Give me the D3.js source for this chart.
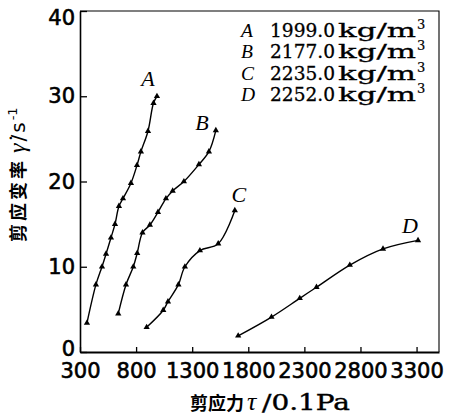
<!DOCTYPE html>
<html>
<head>
<meta charset="utf-8">
<script src="https://cdn.jsdelivr.net/npm/d3@7"></script>
<style>
  body { margin: 0; background: #fff; }
  svg { display: block; }
</style>
</head>
<body>
<div id="chart"></div>
<script>
// ticks
var tauTicks = [300, 800, 1300, 1800, 2300, 2800, 3300];
var rateTicks = [0, 10, 20, 30, 40];

// legend
var curveNames = ["A", "B", "C", "D"];
var densities = ["1999.0", "2177.0", "2235.0", "2252.0"];

// shear stress (0.1Pa) / shear rate (1/s)
var tauA = [362, 442, 496, 532, 576, 612, 647, 683, 754, 808, 843, 906, 955, 986];
var rateA = [3.4, 7.9, 10.0, 11.5, 13.4, 15.0, 17.1, 18.0, 19.8, 21.9, 23.5, 25.9, 29.2, 30.0];

var tauB = [641, 710, 775, 810, 857, 923, 995, 1066, 1126, 1226, 1360, 1449, 1511];
var rateB = [4.5, 7.9, 10.0, 11.6, 14.0, 14.9, 16.4, 18.0, 18.9, 20.0, 22.0, 23.5, 26.0];

var tauC = [894, 1042, 1084, 1177, 1235, 1369, 1532, 1680];
var rateC = [2.9, 4.9, 5.9, 7.9, 10.0, 11.9, 12.7, 16.6];

var tauD = [1710, 2007, 2259, 2408, 2705, 3001, 3313];
var rateD = [1.9, 4.1, 6.3, 7.6, 10.2, 12.1, 13.1];

var series = [
  {name: "A", tau: tauA, rate: rateA},
  {name: "B", tau: tauB, rate: rateB},
  {name: "C", tau: tauC, rate: rateC},
  {name: "D", tau: tauD, rate: rateD}
];

var width = 456, height = 419;
var plotLeft = 80, plotRight = 439, plotTop = 11, plotBottom = 352;

var svg = d3.select("#chart").append("svg")
  .attr("width", width)
  .attr("height", height);

var x = d3.scaleLinear().domain([300, 3500]).range([plotLeft, plotRight]);
var y = d3.scaleLinear().domain([0, 40]).range([plotBottom, plotTop]);

// frame top / right
svg.append("path")
  .attr("d", "M" + plotLeft + "," + plotTop + "H" + plotRight + "V" + plotBottom)
  .attr("fill", "none")
  .attr("stroke", "#000")
  .attr("stroke-width", 1.1);

var sansFont = "'DejaVu Sans', sans-serif";
var serifFont = "'DejaVu Serif', serif";
var italicFont = "'Liberation Serif', 'Times New Roman', serif";
var cjkFont = "'Noto Sans CJK SC', sans-serif";

// x axis
var xAxis = svg.append("g")
  .attr("transform", "translate(0," + plotBottom + ")")
  .call(d3.axisBottom(x).tickValues(tauTicks).tickFormat(d3.format("d"))
    .tickSize(-5).tickPadding(11).tickSizeOuter(0));
xAxis.select(".domain").attr("stroke-width", 1.8);
xAxis.selectAll(".tick line").attr("stroke-width", 1.3);
xAxis.selectAll("text")
  .attr("font-family", sansFont)
  .attr("font-size", 21)
  .attr("fill", "#000")
  .attr("stroke", "#000")
  .attr("stroke-width", 0.6);

// y axis
var yAxis = svg.append("g")
  .attr("transform", "translate(" + plotLeft + ",0)")
  .call(d3.axisLeft(y).tickValues(rateTicks).tickSize(-7).tickPadding(5).tickSizeOuter(0));
yAxis.select(".domain").attr("stroke-width", 1.6);
yAxis.selectAll(".tick line").attr("stroke-width", 1.3);
yAxis.selectAll("text")
  .attr("font-family", sansFont)
  .attr("font-size", 21)
  .attr("fill", "#000")
  .attr("stroke", "#000")
  .attr("stroke-width", 0.6)
  .attr("dy", function(d) {
    // end labels sit inside the frame
    if (d === 40) return "0.65em";
    if (d === 0) return "0.15em";
    return "0.32em";
  });

// curves
var line = d3.line()
  .x(function(d) { return x(d[0]); })
  .y(function(d) { return y(d[1]); })
  .curve(d3.curveCatmullRom.alpha(0.5));

var tri = d3.symbol().type(d3.symbolTriangle).size(17);

series.forEach(function(s) {
  var pts = s.tau.map(function(t, i) { return [t, s.rate[i]]; });
  svg.append("path")
    .datum(pts)
    .attr("d", line)
    .attr("fill", "none")
    .attr("stroke", "#000")
    .attr("stroke-width", 1.4);
  svg.selectAll(".pt" + s.name)
    .data(pts)
    .enter().append("path")
    .attr("d", tri)
    .attr("transform", function(d) { return "translate(" + x(d[0]) + "," + y(d[1]) + ")"; })
    .attr("fill", "#000");
});

// curve letters, offset from each curve's last point
var labelOffsets = {A: [-9, -10], B: [-14, 0], C: [4, -8], D: [-8, -7]};
series.forEach(function(s) {
  var n = s.tau.length - 1;
  svg.append("text")
    .attr("x", x(s.tau[n]) + labelOffsets[s.name][0])
    .attr("y", y(s.rate[n]) + labelOffsets[s.name][1])
    .attr("text-anchor", "middle")
    .attr("font-family", italicFont)
    .attr("font-style", "italic")
    .attr("font-size", 22)
    .text(s.name);
});

// legend
var legend = svg.append("g");
curveNames.forEach(function(name, i) {
  var yy = 37 + i * 21.3;
  legend.append("text")
    .attr("x", 241)
    .attr("y", yy)
    .attr("font-family", italicFont)
    .attr("font-style", "italic")
    .attr("font-size", 19.5)
    .text(name);
  legend.append("text")
    .attr("x", 270)
    .attr("y", yy)
    .attr("font-family", serifFont)
    .attr("font-size", 18.5)
    .attr("stroke", "#000")
    .attr("stroke-width", 0.3)
    .attr("textLength", 65)
    .attr("lengthAdjust", "spacingAndGlyphs")
    .text(densities[i]);
  legend.append("text")
    .attr("x", 338)
    .attr("y", yy)
    .attr("font-family", serifFont)
    .attr("font-size", 18.5)
    .attr("stroke", "#000")
    .attr("stroke-width", 0.3)
    .attr("textLength", 78)
    .attr("lengthAdjust", "spacingAndGlyphs")
    .text("kg/m");
  legend.append("text")
    .attr("x", 417)
    .attr("y", yy - 8)
    .attr("font-family", serifFont)
    .attr("font-size", 13)
    .attr("stroke", "#000")
    .attr("stroke-width", 0.2)
    .text("3");
});

// axis titles
var xTitle = svg.append("g");
xTitle.append("text")
  .attr("x", 190).attr("y", 410)
  .attr("font-family", cjkFont).attr("font-weight", 700).attr("font-size", 18)
  .text("剪应力");
xTitle.append("text")
  .attr("x", 247).attr("y", 410)
  .attr("font-family", italicFont).attr("font-style", "italic").attr("font-size", 26)
  .text("τ");
xTitle.append("text")
  .attr("x", 262).attr("y", 410)
  .attr("font-family", serifFont).attr("font-size", 22)
  .attr("stroke", "#000").attr("stroke-width", 0.4)
  .attr("textLength", 88).attr("lengthAdjust", "spacingAndGlyphs")
  .text("/0.1Pa");

var yTitle = svg.append("text")
  .attr("transform", "translate(25,242) rotate(-90)")
  .attr("font-size", 18);
yTitle.append("tspan").attr("font-family", cjkFont).attr("font-weight", 700).attr("letter-spacing", 3).text("剪应变率");
yTitle.append("tspan").attr("font-family", italicFont).attr("font-style", "italic").attr("font-size", 24).attr("dx", 5).text("γ̇");
yTitle.append("tspan").attr("font-family", sansFont).attr("font-size", 20).attr("letter-spacing", 2).attr("dx", 2).text("/s");
yTitle.append("tspan").attr("font-family", sansFont).attr("font-size", 13).attr("dy", -8).text("-1");
</script>
</body>
</html>
